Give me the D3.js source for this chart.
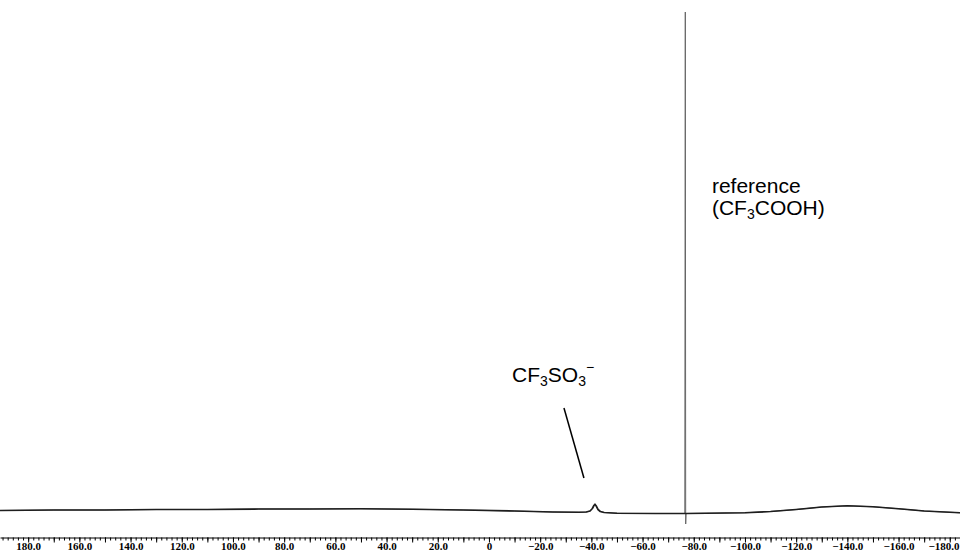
<!DOCTYPE html>
<head>
    <meta charset="utf-8">
    <script src="https://d3js.org/d3.v7.min.js"></script>
    <style>
        body { margin: 0; padding: 0; background: #fff; }
        .tick text { font-family: "Liberation Serif", serif; font-size: 11px; font-weight: bold; }
        .lbl { font-family: "Liberation Sans", Arial, sans-serif; font-size: 21px; fill: #000; }
    </style>
</head>
<body>
<div id="my_dataviz"></div>
<script>
    // chemical shift (ppm) of baseline + peaks
    var shiftPpm = [191, 170, 150, 130, 110, 90, 70, 50, 30, 10, -10, -25, -35,
        -38, -39.5, -40.4, -41.0, -41.4, -41.9, -42.6, -43.5, -45,
        -50, -65, -76.3, -76.5, -76.7, -76.85, -77.0,
        -85, -100, -110, -120, -130, -140, -150, -160, -170, -184];
    // intensity (arbitrary units)
    var intensity = [0.3, 0.4, 0.4, 0.5, 0.5, 0.6, 0.6, 0.65, 0.55, 0.4, 0.2, 0, -0.05,
        0, 0.2, 0.7, 1.3, 1.55, 1.2, 0.5, 0.1, -0.1,
        -0.25, -0.3, -0.3, -0.3, 100, -2.4, -0.3,
        -0.25, -0.15, 0.1, 0.5, 1.0, 1.25, 1.05, 0.65, 0.2, -0.15];
    var labelTicks = [180, 160, 140, 120, 100, 80, 60, 40, 20, 0, -20, -40, -60, -80, -100, -120, -140, -160, -180];

    var width = 960, height = 559;

    var svg = d3.select("#my_dataviz")
        .append("svg")
        .attr("width", width)
        .attr("height", height);

    // x axis runs high -> low like an NMR spectrum
    var x = d3.scaleLinear()
        .domain([191, -184])
        .range([0, width]);

    var y = d3.scaleLinear()
        .domain([0, 100])
        .range([512, 12]);

    // minor ticks every 2 ppm
    svg.append("g")
        .attr("transform", "translate(0,537.5)")
        .call(d3.axisBottom(x).tickValues(d3.range(-184, 191, 2)).tickSize(3).tickSizeOuter(0).tickFormat(""))
        .call(g => g.select(".domain").attr("stroke", "#000"));

    // major ticks every 10 ppm, labels every 20
    svg.append("g")
        .attr("transform", "translate(0,537.5)")
        .call(d3.axisBottom(x).tickValues(d3.range(-180, 181, 10)).tickSize(5).tickSizeOuter(0)
            .tickFormat(d => labelTicks.indexOf(d) < 0 ? "" : (d === 0 ? "0" : d3.format(".1f")(d))))
        .call(g => g.select(".domain").remove())
        .call(g => g.selectAll(".tick text").attr("dy", "0.45em").attr("fill", "#000"))
        // last label sits on the right edge, keep it inside
        .call(g => g.selectAll(".tick text").filter(d => d === -180)
            .attr("text-anchor", "end").attr("x", width - x(-180) - 1));

    var pts = shiftPpm.map((s, i) => [s, intensity[i]]);

    var line = d3.line()
        .x(d => x(d[0]))
        .y(d => y(d[1]));

    // thin grey pass carries the sharp reference spike
    svg.append("path")
        .datum(pts)
        .attr("d", line)
        .attr("fill", "none")
        .attr("stroke", "#666")
        .attr("stroke-width", 1);

    // heavier pass for the noisy baseline, spike left out
    svg.append("path")
        .datum(pts.filter(d => d[1] > -2 && d[1] < 5))
        .attr("d", line)
        .attr("fill", "none")
        .attr("stroke", "#1e1e1e")
        .attr("stroke-width", 1.7)
        .attr("stroke-linejoin", "round");

    // CF3SO3- label and leader line
    var t1 = svg.append("text").attr("class", "lbl")
        .attr("x", x(-9.0)).attr("y", y(26));
    t1.append("tspan").text("CF");
    t1.append("tspan").attr("font-size", 14).attr("dy", 4).text("3");
    t1.append("tspan").attr("dy", -4).text("SO");
    t1.append("tspan").attr("font-size", 14).attr("dy", 4).text("3");
    t1.append("tspan").attr("font-size", 14).attr("dx", 0).attr("dy", -14).text("\u2212");

    svg.append("line")
        .attr("x1", x(-29.3)).attr("y1", y(20.8))
        .attr("x2", x(-37.1)).attr("y2", y(6.8))
        .attr("stroke", "#000").attr("stroke-width", 1.5);

    // reference label
    svg.append("text").attr("class", "lbl")
        .attr("x", x(-87.1)).attr("y", y(63.8))
        .text("reference");
    var t2 = svg.append("text").attr("class", "lbl")
        .attr("x", x(-87.1)).attr("y", y(59.4));
    t2.append("tspan").text("(CF");
    t2.append("tspan").attr("font-size", 14).attr("dy", 4).text("3");
    t2.append("tspan").attr("dy", -4).text("COOH)");
</script>
</body>
